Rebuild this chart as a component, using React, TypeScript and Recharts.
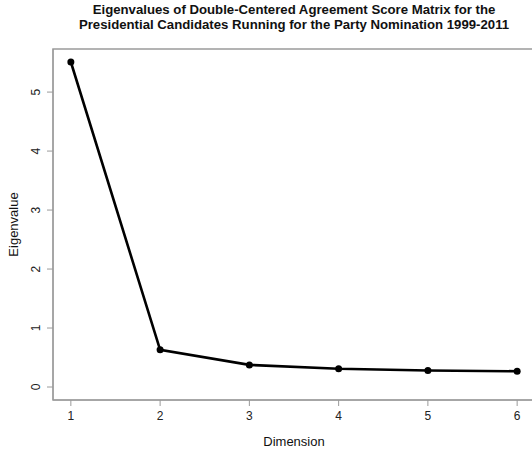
import React from 'react';
import { LineChart, Line, XAxis, YAxis, ReferenceArea } from 'recharts';

const dimensions = [1, 2, 3, 4, 5, 6];
const eigenvalues = [5.51, 0.63, 0.375, 0.31, 0.28, 0.267];
const xTicks = [1, 2, 3, 4, 5, 6];
const yTicks = [0, 1, 2, 3, 4, 5];

const titleLines = [
  'Eigenvalues of Double-Centered Agreement Score Matrix for the',
  'Presidential Candidates Running for the Party Nomination 1999-2011',
];

const data = dimensions.map((d, i) => ({ dim: d, value: eigenvalues[i] }));

// R style axis padding (4% each side)
const xPad = (Math.max(...dimensions) - Math.min(...dimensions)) * 0.04;
const yMax = Math.max(...eigenvalues);
const yPad = yMax * 0.04;
const xDomain: [number, number] = [Math.min(...dimensions) - xPad, Math.max(...dimensions) + xPad];
const yDomain: [number, number] = [0 - yPad, yMax + yPad];

const FONT = '"Liberation Sans", Arial, sans-serif';
const BOX = '#9a9a9a';

const YTick = (props: any) => {
  const { x, y, payload } = props;
  const bx = x - 4;
  return (
    <text x={bx} y={y} transform={`rotate(-90, ${bx}, ${y})`} textAnchor="middle"
      fontSize={12} fill="#222" fontFamily={FONT}>
      {payload.value}
    </text>
  );
};

const App: React.FC = () => {
  return (
    <div style={{ position: 'absolute', left: 0, top: 0, width: 532, height: 453, overflow: 'hidden', background: '#fff' }}>
      <div style={{ position: 'absolute', left: 0, top: 2, width: 588, textAlign: 'center',
        fontFamily: FONT, fontWeight: 700, fontSize: 13.2, lineHeight: '15px', color: '#111' }}>
        {titleLines.map((t) => <div key={t}>{t}</div>)}
      </div>
      <LineChart width={540} height={453} data={data}
        margin={{ top: 49, right: 5, left: 0, bottom: 0 }}>
        <XAxis dataKey="dim" type="number" domain={xDomain} ticks={xTicks} allowDataOverflow
          height={53} stroke={BOX} tickSize={6} tickMargin={5}
          tick={{ fontSize: 12, fill: '#222', fontFamily: FONT }}
          label={({ viewBox }: any) => (
            <text x={viewBox.x + viewBox.width / 2} y={viewBox.y + 46} textAnchor="middle"
              fontSize={13} fill="#111" fontFamily={FONT}>Dimension</text>
          )} />
        <YAxis type="number" domain={yDomain} ticks={yTicks} allowDataOverflow
          width={53} stroke={BOX} tickSize={6} tickMargin={3} tick={<YTick />}
          label={({ viewBox }: any) => {
            const lx = viewBox.x + 18;
            const ly = viewBox.y + viewBox.height / 2;
            return (
              <text x={lx} y={ly} transform={`rotate(-90, ${lx}, ${ly})`} textAnchor="middle"
                fontSize={13} fill="#111" fontFamily={FONT}>Eigenvalue</text>
            );
          }} />
        <ReferenceArea x1={xDomain[0]} x2={xDomain[1]} y1={yDomain[0]} y2={yDomain[1]}
          fill="none" stroke={BOX} strokeWidth={1.5} ifOverflow="visible" />
        <Line type="linear" dataKey="value" stroke="#000" strokeWidth={2.6}
          dot={{ r: 3.5, fill: '#000', stroke: '#000', strokeWidth: 0 }}
          activeDot={false} isAnimationActive={false} />
      </LineChart>
    </div>
  );
};

export default App;
